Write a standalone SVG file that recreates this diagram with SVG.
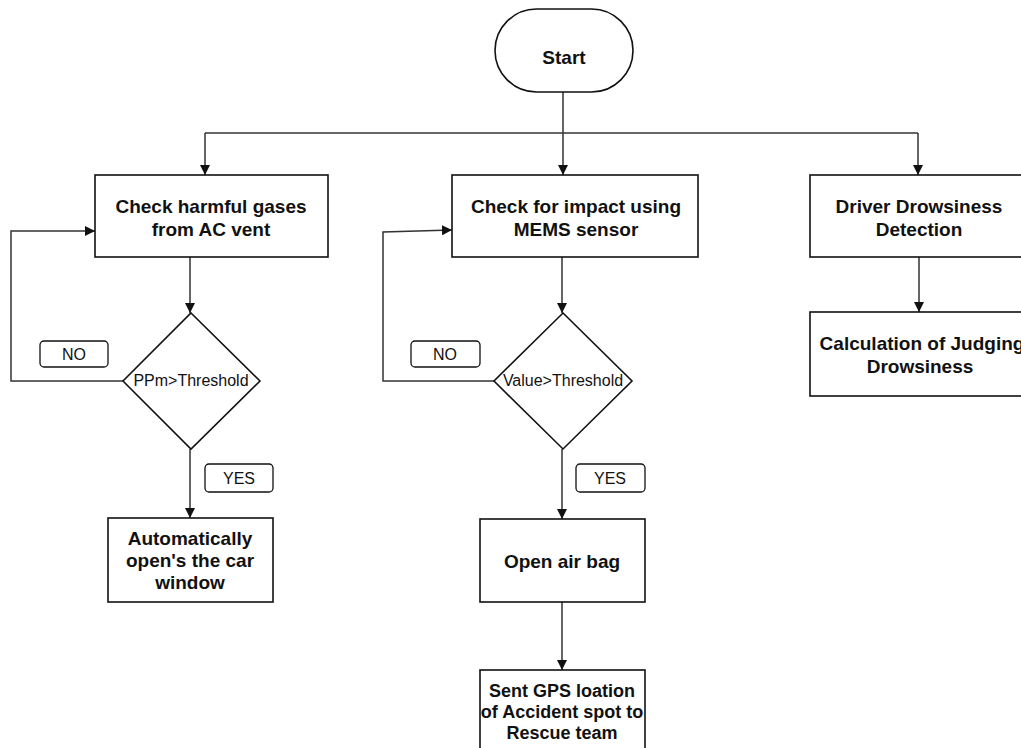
<svg xmlns="http://www.w3.org/2000/svg" width="1021" height="748" viewBox="0 0 1021 748">
<defs>
<marker id="arr" viewBox="0 0 10 10" refX="10" refY="5" markerWidth="10" markerHeight="10" markerUnits="userSpaceOnUse" orient="auto">
<path d="M0,0 L10,5 L0,10 Z" fill="#111"/>
</marker>
<style>
.n{fill:#fff;stroke:#111;stroke-width:1.6}
.lbl{fill:#fff;stroke:#111;stroke-width:1.3}
.c{fill:none;stroke:#333;stroke-width:1.5}
.t{font-family:"Liberation Sans",Arial,sans-serif;font-weight:bold;font-size:19px;fill:#111;text-anchor:middle}
.s{font-family:"Liberation Sans",Arial,sans-serif;font-size:16px;fill:#111;text-anchor:middle}
</style>
</defs>
<rect width="1021" height="748" fill="#fff"/>
<g id="connectors">
<path class="c" d="M563,92 V175" marker-end="url(#arr)"/>
<path class="c" d="M205,133 H918"/>
<path class="c" d="M205,133 V175" marker-end="url(#arr)"/>
<path class="c" d="M918,133 V175" marker-end="url(#arr)"/>
<path class="c" d="M190,257 V313" marker-end="url(#arr)"/>
<path class="c" d="M123,381 H11 V231 H95" marker-end="url(#arr)"/>
<path class="c" d="M190,449 V518" marker-end="url(#arr)"/>
<path class="c" d="M562,257 V313" marker-end="url(#arr)"/>
<path class="c" d="M494,381 H383 V232 L452,230" marker-end="url(#arr)"/>
<path class="c" d="M562,449 V519" marker-end="url(#arr)"/>
<path class="c" d="M562,602 V670" marker-end="url(#arr)"/>
<path class="c" d="M919,257 V312" marker-end="url(#arr)"/>
</g>
<g id="start">
<rect class="n" x="495" y="9" width="138" height="83" rx="41.5"/>
<text class="t" x="564" y="64">Start</text>
</g>
<g id="gases">
<rect class="n" x="95" y="175" width="233" height="82"/>
<text class="t" x="211" y="213">Check harmful gases</text>
<text class="t" x="211" y="236">from AC vent</text>
</g>
<g id="impact">
<rect class="n" x="452" y="175" width="246" height="82"/>
<text class="t" x="576" y="213">Check for impact using</text>
<text class="t" x="576" y="236">MEMS sensor</text>
</g>
<g id="drowsy">
<rect class="n" x="810" y="175" width="220" height="82"/>
<text class="t" x="919" y="213">Driver Drowsiness</text>
<text class="t" x="919" y="236">Detection</text>
</g>
<g id="calc">
<rect class="n" x="810" y="312" width="220" height="84"/>
<text class="t" x="922" y="350">Calculation of Judging</text>
<text class="t" x="920" y="373">Drowsiness</text>
</g>
<g id="ppm">
<polygon class="n" points="191,313 260,381 191,449 123,381"/>
<text class="s" x="191" y="386">PPm&gt;Threshold</text>
</g>
<g id="value">
<polygon class="n" points="563,313 632,381 563,449 494,381"/>
<text class="s" x="563" y="386">Value&gt;Threshold</text>
</g>
<g id="no1">
<rect class="lbl" x="40" y="341" width="68" height="26" rx="4"/>
<text class="s" x="74" y="360">NO</text>
</g>
<g id="no2">
<rect class="lbl" x="411" y="341" width="69" height="26" rx="4"/>
<text class="s" x="445" y="360">NO</text>
</g>
<g id="yes1">
<rect class="lbl" x="205" y="464" width="68" height="28" rx="4"/>
<text class="s" x="239" y="484">YES</text>
</g>
<g id="yes2">
<rect class="lbl" x="576" y="464" width="69" height="28" rx="4"/>
<text class="s" x="610" y="484">YES</text>
</g>
<g id="window">
<rect class="n" x="108" y="518" width="165" height="84"/>
<text class="t" x="190" y="545">Automatically</text>
<text class="t" x="190" y="567">open's the car</text>
<text class="t" x="190" y="589">window</text>
</g>
<g id="airbag">
<rect class="n" x="480" y="519" width="165" height="83"/>
<text class="t" x="562" y="568">Open air bag</text>
</g>
<g id="gps">
<rect class="n" x="480" y="670" width="165" height="90"/>
<text class="t" x="562" y="697" style="font-size:18px">Sent GPS loation</text>
<text class="t" x="562" y="718" style="font-size:18px">of Accident spot to</text>
<text class="t" x="562" y="739" style="font-size:18px">Rescue team</text>
</g>
</svg>
